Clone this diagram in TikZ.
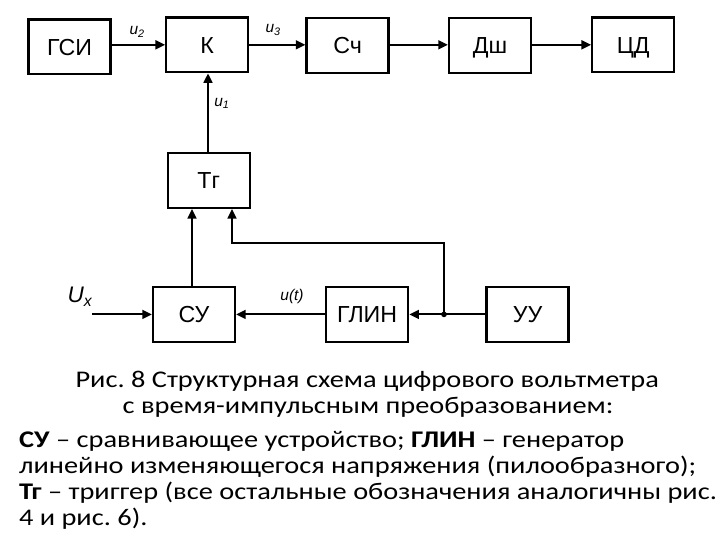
\documentclass[tikz,border=0pt]{standalone}
\usepackage{fontspec}
\setmainfont{Liberation Sans}
\newfontfamily\capfont[FakeStretch=1.187]{Carlito}
\usetikzlibrary{arrows.meta}
\frenchspacing

\tikzset{
	blk/.style={draw, line width=1.6pt, minimum width=2.05cm, minimum height=1.37cm, text height=11.8pt, text depth=0pt, font=\fontsize{16.5}{18}\selectfont},
	sig/.style={font=\fontsize{11}{12}\selectfont\itshape},
	captxt/.style={inner sep=0pt, font=\capfont\fontsize{17}{18.5}\selectfont},
}

\begin{document}
\begin{tikzpicture}[>={Triangle[length=2.4mm,width=2.2mm]}, line width=1.5pt]
	\useasboundingbox (0,0) rectangle (18,-13.5);
	\node[blk](GSI) at (1.74,-1.17){ГСИ};
	\node[blk](K) at (5.18,-1.12){К};
	\node[blk](Sch) at (8.69,-1.14){Сч};
	\node[blk](Dsh) at (12.25,-1.14){Дш};
	\node[blk](CD) at (15.83,-1.12){ЦД};
	\node[blk](Tg) at (5.22,-4.51){Тг};
	\node[blk](SU) at (4.85,-7.86){СУ};
	\node[blk](GLIN) at (9.18,-7.86){ГЛИН};
	\node[blk](UU) at (13.19,-7.86){УУ};
	\coordinate(in) at (2.3,-7.86);
	\coordinate(jn) at (11.1,-7.86);
	\coordinate(fb) at (5.8,-6.08);
	
	\draw[->] (GSI.east |- K)--(K);
	\draw[->] (K)--(K -| Sch.west);
	\draw[->] (Sch.east |- K)--(K -| Dsh.west);
	\draw[->] (Dsh.east |- K)--(CD);
	\draw[->] (Tg.north -| 5.2,0)--(K.south -| 5.2,0);
	\draw[->] (SU.north -| 4.8,0)--(Tg.south -| 4.8,0);
	\draw[->] (jn) |- (fb) -- (fb |- Tg.south);
	\draw[->] (in)--(SU);
	\draw[->] (GLIN)--(SU);
	\draw[->] (UU)--(GLIN);
	\fill (jn) circle (2pt);
	
	\node[sig](u2) at (3.43,-0.8){u\textsubscript{2}};
	\node[sig](u3) at (6.83,-0.75){u\textsubscript{3}};
	\node[sig](u1) at (5.55,-2.58){u\textsubscript{1}};
	\node[sig, font=\fontsize{16}{18}\selectfont\itshape](Ux) at (2.0,-7.42){U\textsubscript{x}};
	\node[sig](ut) at (7.3,-7.42){u(t)};
	
	% caption
	\node[captxt, anchor=base](cap1) at (9.18,-9.675){Рис. 8 Структурная схема цифрового вольтметра};
	\node[captxt, anchor=base](cap2) at (9.2,-10.325){с время-импульсным преобразованием:};
	\node[captxt, anchor=base west](cap3) at (0.45,-11.175){\textbf{СУ} – сравнивающее устройство; \textbf{ГЛИН} – генератор};
	\node[captxt, anchor=base west](cap4) at (0.45,-11.825){линейно изменяющегося напряжения (пилообразного);};
	\node[captxt, anchor=base west](cap5) at (0.45,-12.475){\textbf{Тг} – триггер (все остальные обозначения аналогичны рис.};
	\node[captxt, anchor=base west](cap6) at (0.45,-13.125){4 и рис. 6).};
\end{tikzpicture}
\end{document}
